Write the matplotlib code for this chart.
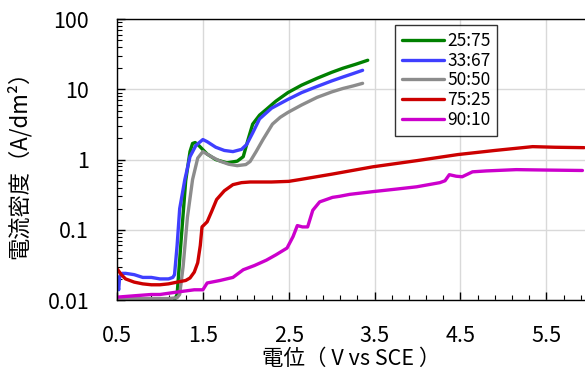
import numpy as np
import matplotlib
matplotlib.use('Agg')
import matplotlib.pyplot as plt
from matplotlib.ticker import FixedLocator, LogLocator, NullFormatter

plt.rcParams['font.family'] = ['Noto Sans CJK JP', 'DejaVu Sans']

# series (potential V vs SCE, current density A/dm2)
x_2575 = [1.15, 1.20, 1.25, 1.30, 1.35, 1.38, 1.41, 1.45, 1.55, 1.65, 1.78, 1.90, 1.97, 2.03, 2.08,
          2.16, 2.24, 2.35, 2.49, 2.65, 2.83, 3.00, 3.13, 3.28, 3.42]
y_2575 = [0.009, 0.012, 0.08, 0.5, 1.3, 1.7, 1.75, 1.6, 1.2, 1.0, 0.9, 0.95, 1.1, 2.0, 3.2,
          4.3, 5.2, 6.8, 9.0, 11.5, 14.4, 17.5, 20.0, 22.8, 26.0]

x_3367 = [0.50, 0.51, 0.52, 0.53, 0.56, 0.60, 0.70, 0.80, 0.90, 1.00, 1.10, 1.15, 1.17, 1.20, 1.23,
          1.29, 1.35, 1.42, 1.50, 1.55, 1.65, 1.75, 1.85, 1.95, 2.01, 2.08, 2.16, 2.30, 2.49, 2.65,
          2.83, 3.00, 3.13, 3.25, 3.36]
y_3367 = [0.022, 0.016, 0.014, 0.021, 0.024, 0.024, 0.023, 0.021, 0.021, 0.020, 0.020, 0.021, 0.023, 0.06, 0.2,
          0.52, 1.1, 1.6, 1.93, 1.8, 1.5, 1.35, 1.3, 1.4, 1.64, 2.4, 3.8, 5.4, 7.2, 9.0,
          11.0, 13.2, 15.0, 16.8, 18.7]

x_5050 = [0.50, 0.80, 1.10, 1.20, 1.23, 1.27, 1.32, 1.38, 1.44, 1.50, 1.60, 1.70, 1.80, 1.90, 2.00,
          2.05, 2.12, 2.20, 2.31, 2.40, 2.49, 2.65, 2.83, 3.00, 3.13, 3.25, 3.36]
y_5050 = [0.0105, 0.0105, 0.0105, 0.0108, 0.012, 0.03, 0.15, 0.52, 1.05, 1.3, 1.1, 0.95, 0.86, 0.82, 0.85,
          0.94, 1.3, 1.93, 3.2, 4.0, 4.7, 6.0, 7.7, 9.2, 10.3, 11.2, 12.2]

x_7525 = [0.50, 0.55, 0.60, 0.70, 0.80, 0.90, 1.00, 1.10, 1.20, 1.30, 1.35, 1.40, 1.44, 1.47, 1.49,
          1.55, 1.60, 1.66, 1.75, 1.85, 1.95, 2.05, 2.30, 2.50, 2.63, 3.00, 3.48, 4.00, 4.47, 4.90,
          5.34, 5.60, 5.94]
y_7525 = [0.028, 0.023, 0.020, 0.018, 0.017, 0.0165, 0.0165, 0.017, 0.018, 0.019, 0.0206, 0.025, 0.034, 0.06, 0.11,
          0.13, 0.18, 0.27, 0.36, 0.44, 0.47, 0.48, 0.48, 0.49, 0.52, 0.62, 0.79, 0.97, 1.18, 1.35,
          1.53, 1.50, 1.48]

x_9010 = [0.50, 0.70, 0.90, 1.00, 1.20, 1.40, 1.50, 1.55, 1.70, 1.85, 1.97, 2.10, 2.24, 2.35, 2.48,
          2.55, 2.60, 2.66, 2.72, 2.78, 2.86, 3.01, 3.09, 3.21, 3.48, 3.75, 3.99, 4.26, 4.32, 4.37,
          4.45, 4.52, 4.64, 4.80, 5.15, 5.50, 5.92]
y_9010 = [0.011, 0.0115, 0.012, 0.012, 0.013, 0.014, 0.014, 0.0175, 0.019, 0.021, 0.027, 0.031, 0.037, 0.044, 0.055,
          0.08, 0.115, 0.11, 0.11, 0.19, 0.25, 0.29, 0.30, 0.32, 0.35, 0.38, 0.41, 0.47, 0.50, 0.61,
          0.58, 0.57, 0.67, 0.69, 0.72, 0.71, 0.70]

series = [
    ('25:75', x_2575, y_2575, '#008000'),
    ('33:67', x_3367, y_3367, '#3f3fff'),
    ('50:50', x_5050, y_5050, '#8c8c8c'),
    ('75:25', x_7525, y_7525, '#cc0000'),
    ('90:10', x_9010, y_9010, '#cc00cc'),
]

fig = plt.figure(figsize=(5.85, 3.76), dpi=100)
ax = fig.add_axes([0.2, 0.202, 0.8, 0.747])

for label, xs, ys, col in series:
    ax.plot(xs, ys, color=col, lw=2.4, label=label, solid_capstyle='round')

ax.set_yscale('log')
ax.set_ylim(0.01, 100)
ax.set_xlim(0.5, 5.95)

ax.set_xticks([0.5, 1.5, 2.5, 3.5, 4.5, 5.5])
ax.set_xticklabels(['0.5', '1.5', '2.5', '3.5', '4.5', '5.5'])
ax.xaxis.set_minor_locator(FixedLocator(np.arange(0.5, 6.0, 0.2)))
ax.set_yticks([0.01, 0.1, 1, 10, 100])
ax.set_yticklabels(['0.01', '0.1', '1', '10', '100'])
ax.yaxis.set_minor_locator(LogLocator(base=10, subs=np.arange(2, 10)))
ax.yaxis.set_minor_formatter(NullFormatter())

ax.tick_params(which='major', direction='in', length=6, width=1, labelsize=15.5)
ax.tick_params(which='minor', direction='in', length=3.5, width=0.8)
ax.tick_params(axis='y', pad=20)
ax.tick_params(axis='x', pad=18)
ax.grid(True, which='major', color='#d9d9d9', lw=1)
ax.set_axisbelow(True)

for side in ['left', 'bottom', 'top']:
    ax.spines[side].set_color('black')
    ax.spines[side].set_linewidth(1)
ax.spines['right'].set_visible(False)

ax.set_xlabel('電位（ V vs SCE ）', fontsize=15.5, labelpad=1)
ax.set_ylabel('電流密度（A/dm²）', fontsize=16, labelpad=12)

leg = ax.legend(loc='upper left', bbox_to_anchor=(0.594, 0.979), borderaxespad=0,
                fontsize=12.5, frameon=True, fancybox=False, edgecolor='black',
                handlelength=2.4, handletextpad=0.2, labelspacing=0.1, borderpad=0.4)
leg.get_frame().set_linewidth(1)

fig.savefig('out.png', dpi=100)
